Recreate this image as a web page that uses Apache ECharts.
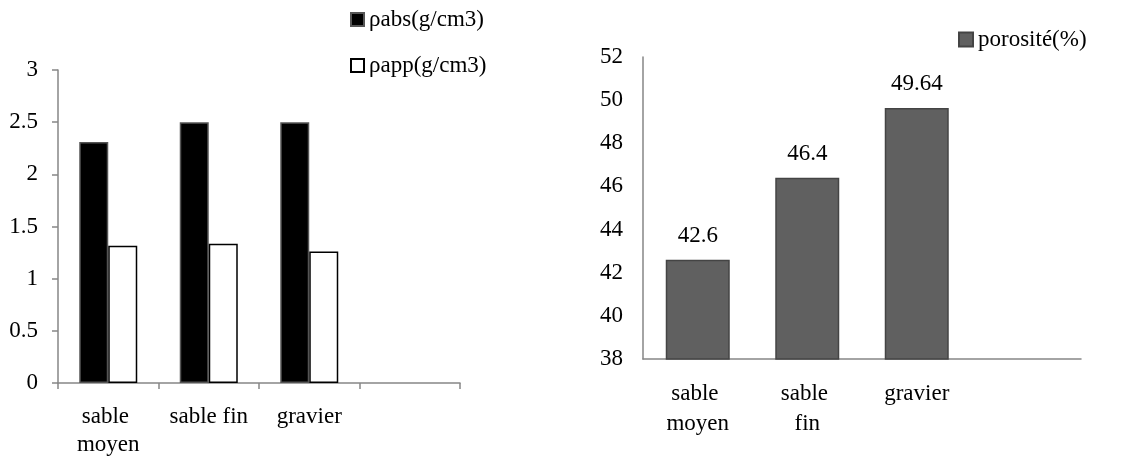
<!DOCTYPE html>
<html>
<head>
<meta charset="utf-8">
<script src="https://cdn.jsdelivr.net/npm/echarts@6/dist/echarts.min.js"></script>
<style>
html,body{margin:0;padding:0;background:#fff;}
#c{width:1142px;height:461px;}
</style>
</head>
<body>
<div id="c"></div>
<script>
// ---- data ----
const categories = ["sable moyen", "sable fin", "gravier", ""];
const densityNames = ["ρabs(g/cm3)", "ρapp(g/cm3)"];
const rhoAbs = [2.31, 2.50, 2.50, null];
const rhoApp = [1.315, 1.335, 1.26, null];
const porosityName = "porosité(%)";
const porosity = [42.6, 46.4, 49.64, null];
const leftTicks = { min: 0, max: 3, interval: 0.5 };
const rightTicks = { min: 38, max: 52, interval: 2 };

const FONT = "Liberation Serif";
const FS = 23;
const AX = "#868686";
const chart = echarts.init(document.getElementById('c'), null, { renderer: 'canvas' });

chart.setOption({
  animation: false,
  backgroundColor: '#fff',
  textStyle: { fontFamily: FONT, color: '#000' },
  legend: [
    {
      data: densityNames,
      orient: 'vertical',
      left: 350, top: 8,
      padding: 0,
      itemWidth: 13, itemHeight: 13, itemGap: 23,
      icon: 'rect',
      textStyle: { fontFamily: FONT, fontSize: FS, color: '#000' }
    },
    {
      data: [porosityName],
      left: 958, top: 28,
      padding: 0,
      itemWidth: 14, itemHeight: 14,
      icon: 'rect',
      textStyle: { fontFamily: FONT, fontSize: FS, color: '#000' }
    }
  ],
  grid: [
    { left: 58, top: 70, width: 402, height: 313 },
    { left: 643, top: 57, width: 438, height: 302 }
  ],
  xAxis: [
    {
      gridIndex: 0, type: 'category', data: categories,
      axisLine: { show: true, lineStyle: { color: AX, width: 1.5 } },
      axisTick: { show: true, length: 6, alignWithLabel: false, lineStyle: { color: AX, width: 1.5 } },
      axisLabel: { fontFamily: FONT, fontSize: FS, color: '#000', margin: 20, lineHeight: 28,
                   width: 92, overflow: 'break', interval: 0 }
    },
    {
      gridIndex: 1, type: 'category', data: categories,
      axisLine: { show: true, lineStyle: { color: AX, width: 1.5 } },
      axisTick: { show: false },
      axisLabel: { fontFamily: FONT, fontSize: FS, color: '#000', margin: 20, lineHeight: 30,
                   width: 72, overflow: 'break', interval: 0 }
    }
  ],
  yAxis: [
    {
      gridIndex: 0, type: 'value', min: leftTicks.min, max: leftTicks.max, interval: leftTicks.interval,
      axisLine: { show: true, lineStyle: { color: AX, width: 1.5 } },
      axisTick: { show: true, length: 6, lineStyle: { color: AX, width: 1.5 } },
      splitLine: { show: false },
      axisLabel: { fontFamily: FONT, fontSize: FS, color: '#000', margin: 20 }
    },
    {
      gridIndex: 1, type: 'value', min: rightTicks.min, max: rightTicks.max, interval: rightTicks.interval,
      axisLine: { show: true, lineStyle: { color: AX, width: 1.5 } },
      axisTick: { show: false },
      splitLine: { show: false },
      axisLabel: { fontFamily: FONT, fontSize: FS, color: '#000', margin: 20 }
    }
  ],
  series: [
    {
      name: densityNames[0], type: 'bar', xAxisIndex: 0, yAxisIndex: 0,
      data: rhoAbs, barWidth: 29, barGap: '0%',
      itemStyle: { color: '#000', borderColor: '#555', borderWidth: 1.5 }
    },
    {
      name: densityNames[1], type: 'bar', xAxisIndex: 0, yAxisIndex: 0,
      data: rhoApp, barWidth: 29, barGap: '0%',
      itemStyle: { color: '#fff', borderColor: '#000', borderWidth: 1.5 }
    },
    {
      name: porosityName, type: 'bar', xAxisIndex: 1, yAxisIndex: 1,
      data: porosity, barWidth: 64,
      itemStyle: { color: '#606060', borderColor: '#444', borderWidth: 1.5 },
      label: { show: true, position: 'top', distance: 12, fontFamily: FONT, fontSize: FS, color: '#000' }
    }
  ]
});
</script>
</body>
</html>
